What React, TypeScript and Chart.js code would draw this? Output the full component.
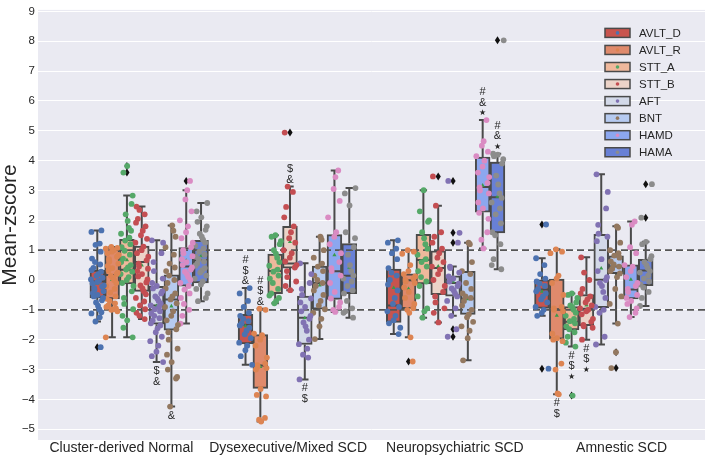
import { useEffect, useRef } from 'react';
import { Chart, registerables } from 'chart.js';
Chart.register(...registerables);

// ---------- data ----------
const GROUPS = ['Cluster-derived Normal', 'Dysexecutive/Mixed SCD', 'Neuropsychiatric SCD', 'Amnestic SCD'];
const SERIES = ['AVLT_D', 'AVLT_R', 'STT_A', 'STT_B', 'AFT', 'BNT', 'HAMD', 'HAMA'];
const Y_TICKS = [-5, -4, -3, -2, -1, 0, 1, 2, 3, 4, 5, 6, 7, 8, 9];
const REF_LINES = [1, -1];

// box stats per group: [lower whisker, Q1, median, Q3, upper whisker]
const AVLT_D_BOX = [[-1.39, -0.6, -0.05, 0.33, 1.66], [-2.84, -2.14, -1.5, -1.15, -0.27], [-1.81, -1.42, -0.85, 0.37, 1.33], [-1.2, -0.95, -0.32, 0.01, 0.73]];
const AVLT_R_BOX = [[-1.92, -0.63, 0.17, 1.08, 1.11], [-4.74, -3.63, -2.86, -1.83, -0.96], [-1.92, -0.96, -0.01, 0.21, 1.0], [-3.83, -1.98, -0.98, 0.03, 1.03]];
const STT_A_BOX = [[-1.92, -0.13, 0.34, 1.36, 2.83], [-0.78, -0.46, 0.3, 0.87, 1.5], [-1.26, -0.13, 0.67, 1.53, 3.01], [-2.23, -1.67, -1.4, -0.89, -0.45]];
const STT_B_BOX = [[-1.31, -0.38, 0.6, 1.14, 2.46], [-0.34, 0.4, 0.55, 1.8, 3.13], [-1.42, -0.49, 0.4, 0.98, 2.49], [-2.0, -1.53, -0.96, -0.49, 0.76]];
const AFT_BOX = [[-2.75, -1.48, -0.85, -0.21, 1.33], [-3.33, -2.16, -1.26, -0.54, 0.56], [-1.2, -0.54, -0.1, 0.14, 0.45], [-2.16, -0.93, 0.01, 1.53, 3.54]];
const BNT_BOX = [[-4.24, -1.68, -0.65, 0.17, 1.83], [-1.98, -0.98, -0.1, 0.47, 1.45], [-2.69, -1.15, -0.62, 0.29, 1.25], [-1.46, 0.21, 0.45, 0.81, 1.8]];
const HAMD_BOX = [[-1.46, -0.21, 0.45, 1.09, 3.01], [-1.07, -0.65, 0.29, 1.52, 3.67], [1.06, 2.27, 3.12, 4.12, 5.36], [-1.24, -0.63, -0.32, 0.51, 1.96]];
const HAMA_BOX = [[-0.71, -0.1, 0.67, 1.33, 2.58], [-1.26, -0.46, 0.14, 1.22, 3.08], [0.36, 1.58, 2.77, 3.95, 4.23], [-0.87, -0.19, 0.32, 0.69, 1.28]];

// outliers (fliers) per group
const AVLT_D_OUT = [[-2.25], [], [], [1.86, -2.97]];
const AVLT_R_OUT = [[], [], [-2.73], []];
const STT_A_OUT = [[3.82, 3.6], [], [], [-3.87]];
const STT_B_OUT = [[], [4.94], [3.47], []];
const AFT_OUT = [[], [], [3.32, 1.58, 1.25, -1.65, -1.9], []];
const BNT_OUT = [[], [], [], [-2.42, -2.95]];
const HAMD_OUT = [[3.32], [], [], []];
const HAMA_OUT = [[], [], [8.03], [3.21, 2.09]];

// individual subject values per group
const AVLT_D_PTS = [
  [1.66, 1.61, 1.22, 1.18, 0.95, 0.72, 0.6, 0.52, 0.41, 0.33, 0.28, 0.2, 0.14, 0.08, 0.02, -0.03, -0.07, -0.12, -0.18, -0.22, -0.27, -0.33, -0.38, -0.44, -0.5, -0.55, -0.6, -0.68, -0.75, -0.86, -0.98, -1.08, -1.12, -1.25, -1.39, -2.25],
  [-0.27, -0.45, -0.7, -0.9, -1.1, -1.2, -1.3, -1.38, -1.45, -1.52, -1.6, -1.7, -1.82, -1.95, -2.1, -2.2, -2.35, -2.55, -2.84],
  [1.33, 1.25, 1.05, 0.9, 0.7, 0.4, 0.25, 0.15, 0.0, -0.15, -0.35, -0.6, -0.8, -0.9, -1.05, -1.2, -1.35, -1.45, -1.6, -1.81],
  [1.86, 0.73, 0.5, 0.2, 0.05, -0.05, -0.12, -0.2, -0.3, -0.38, -0.45, -0.55, -0.65, -0.75, -0.9, -1.0, -1.1, -1.2, -2.97],
];
const AVLT_R_PTS = [
  [1.11, 1.08, 1.05, 1.0, 0.95, 0.9, 0.84, 0.78, 0.7, 0.62, 0.55, 0.47, 0.4, 0.32, 0.25, 0.2, 0.14, 0.08, 0.0, -0.1, -0.2, -0.3, -0.42, -0.55, -0.63, -0.7, -0.78, -0.85, -0.9, -0.95, -0.98, -1.0, -1.05, -1.92],
  [-0.96, -1.0, -1.8, -1.85, -2.0, -2.2, -2.6, -2.8, -2.85, -2.9, -2.95, -3.0, -3.65, -3.85, -3.9, -4.62, -4.68, -4.74],
  [1.0, 0.95, 0.88, 0.5, 0.3, 0.2, 0.12, 0.05, 0.0, -0.05, -0.1, -0.25, -0.4, -0.6, -0.8, -0.95, -1.0, -1.1, -1.92, -2.73],
  [1.03, 0.95, 0.9, 0.15, 0.05, -0.1, -0.5, -0.9, -0.95, -1.0, -1.05, -1.8, -1.95, -2.0, -2.05, -2.8, -3.0, -3.8, -3.83],
];
const STT_A_PTS = [
  [3.82, 3.6, 2.83, 2.55, 2.2, 1.98, 1.75, 1.65, 1.55, 1.42, 1.32, 1.2, 1.1, 0.98, 0.85, 0.72, 0.6, 0.5, 0.42, 0.35, 0.28, 0.2, 0.1, 0.0, -0.1, -0.2, -0.38, -0.6, -0.8, -0.98, -1.2, -1.35, -1.6, -1.92],
  [1.5, 1.45, 1.3, 1.2, 1.0, 0.88, 0.75, 0.6, 0.48, 0.35, 0.28, 0.15, 0.05, -0.1, -0.3, -0.45, -0.52, -0.6, -0.7, -0.78],
  [3.01, 2.3, 2.0, 1.95, 1.6, 1.4, 1.2, 1.05, 0.85, 0.7, 0.6, 0.45, 0.3, 0.1, -0.05, -0.2, -0.55, -0.95, -1.05, -1.26],
  [-0.45, -0.5, -0.6, -0.75, -0.85, -0.9, -1.0, -1.1, -1.2, -1.3, -1.38, -1.45, -1.55, -1.65, -1.75, -1.9, -2.1, -2.23, -3.87],
];
const STT_B_PTS = [
  [2.46, 2.35, 2.2, 2.05, 1.92, 1.8, 1.65, 1.5, 1.38, 1.25, 1.12, 1.0, 0.9, 0.78, 0.66, 0.55, 0.45, 0.38, 0.3, 0.2, 0.12, 0.02, -0.08, -0.18, -0.28, -0.38, -0.48, -0.6, -0.72, -0.85, -0.98, -1.1, -1.2, -1.31],
  [4.94, 3.13, 2.95, 2.45, 2.1, 1.8, 1.6, 1.4, 1.25, 1.0, 0.9, 0.75, 0.62, 0.5, 0.42, 0.3, 0.1, -0.05, -0.2, -0.34],
  [3.47, 2.49, 1.6, 1.45, 1.25, 1.05, 0.9, 0.75, 0.6, 0.45, 0.35, 0.2, 0.0, -0.2, -0.4, -0.55, -0.75, -0.95, -1.1, -1.42],
  [0.76, 0.25, 0.0, -0.3, -0.45, -0.55, -0.65, -0.75, -0.85, -0.95, -1.0, -1.05, -1.15, -1.3, -1.4, -1.5, -1.55, -1.6, -2.0],
];
const AFT_PTS = [
  [1.33, 1.25, 0.9, 0.6, 0.3, 0.05, -0.1, -0.2, -0.28, -0.38, -0.45, -0.55, -0.62, -0.7, -0.78, -0.85, -0.9, -0.98, -1.05, -1.12, -1.2, -1.28, -1.36, -1.45, -1.52, -1.62, -1.75, -1.9, -2.05, -2.2, -2.4, -2.55, -2.75],
  [0.56, 0.2, -0.1, -0.3, -0.5, -0.62, -0.75, -0.9, -1.05, -1.2, -1.3, -1.42, -1.55, -1.7, -2.0, -2.15, -2.3, -2.5, -2.6, -3.33],
  [3.32, 1.58, 1.25, 0.45, 0.4, 0.25, 0.12, 0.05, -0.05, -0.12, -0.2, -0.28, -0.35, -0.45, -0.55, -0.7, -0.95, -1.2, -1.65, -1.9],
  [3.54, 2.95, 2.4, 1.85, 1.55, 1.45, 1.3, 0.7, 0.3, 0.1, 0.0, -0.1, -0.2, -0.4, -0.6, -0.9, -1.0, -1.1, -1.9, -2.16],
];
const BNT_PTS = [
  [1.83, 1.65, 1.45, 1.1, 0.85, 0.55, 0.42, 0.3, 0.15, 0.0, -0.1, -0.28, -0.45, -0.55, -0.65, -0.78, -0.9, -1.05, -1.2, -1.35, -1.5, -1.65, -1.75, -2.0, -2.3, -2.5, -2.75, -3.0, -3.25, -3.3, -4.24],
  [1.45, 1.35, 1.0, 0.75, 0.55, 0.45, 0.3, 0.15, 0.0, -0.1, -0.2, -0.35, -0.5, -0.7, -0.85, -0.98, -1.1, -1.3, -1.55, -1.98],
  [1.25, 1.2, 0.6, 0.3, 0.2, -0.1, -0.3, -0.45, -0.55, -0.6, -0.7, -0.85, -1.0, -1.15, -1.25, -1.4, -1.55, -1.7, -1.95, -2.69],
  [1.8, 1.75, 1.25, 1.0, 0.9, 0.82, 0.75, 0.62, 0.52, 0.45, 0.38, 0.3, 0.22, 0.1, -0.3, -0.55, -0.8, -1.46, -2.42, -2.95],
];
const HAMD_PTS = [
  [3.32, 3.01, 2.7, 2.3, 2.0, 1.8, 1.6, 1.4, 1.25, 1.1, 1.0, 0.9, 0.8, 0.7, 0.6, 0.5, 0.42, 0.35, 0.28, 0.2, 0.1, 0.0, -0.1, -0.2, -0.32, -0.45, -0.6, -0.8, -1.0, -1.2, -1.46],
  [3.67, 3.45, 3.05, 2.65, 2.1, 1.6, 1.45, 1.2, 0.9, 0.6, 0.4, 0.3, 0.15, -0.1, -0.4, -0.62, -0.75, -0.9, -1.0, -1.07],
  [5.36, 4.65, 4.5, 4.3, 4.15, 4.0, 3.8, 3.6, 3.45, 3.25, 3.1, 3.0, 2.9, 2.6, 2.4, 2.25, 2.05, 1.6, 1.35, 1.06],
  [1.96, 1.85, 1.1, 0.9, 0.5, 0.45, 0.3, 0.1, -0.1, -0.2, -0.3, -0.4, -0.5, -0.6, -0.7, -0.8, -0.95, -1.1, -1.24],
];
const HAMA_PTS = [
  [2.58, 2.3, 2.1, 1.95, 1.8, 1.68, 1.55, 1.45, 1.35, 1.25, 1.15, 1.05, 0.95, 0.85, 0.78, 0.7, 0.62, 0.55, 0.48, 0.4, 0.32, 0.25, 0.15, 0.05, -0.05, -0.15, -0.3, -0.45, -0.6, -0.71],
  [3.08, 2.9, 2.5, 1.6, 1.4, 1.1, 0.85, 0.5, 0.3, 0.15, 0.05, -0.05, -0.2, -0.35, -0.45, -0.7, -0.95, -1.05, -1.1, -1.26],
  [8.03, 4.23, 4.2, 4.15, 4.05, 3.9, 3.5, 3.2, 2.9, 2.75, 2.6, 2.4, 2.2, 1.9, 1.6, 1.5, 1.2, 0.7, 0.5, 0.36],
  [3.21, 2.09, 1.28, 1.2, 0.8, 0.7, 0.6, 0.5, 0.4, 0.3, 0.25, 0.15, 0.05, -0.05, -0.15, -0.25, -0.4, -0.6, -0.87],
];

// significance marks: group, series, side of whisker, lines of text
const ANNOTATIONS = [
  { g: 0, s: 4, side: 'below', lines: ['$', '&'] },
  { g: 0, s: 5, side: 'below', lines: ['&'] },
  { g: 1, s: 0, side: 'above', lines: ['#', '$', '&'] },
  { g: 1, s: 1, side: 'above', lines: ['#', '$', '&'] },
  { g: 1, s: 3, side: 'above', lines: ['$', '&'] },
  { g: 1, s: 4, side: 'below', lines: ['#', '$'] },
  { g: 2, s: 6, side: 'above', lines: ['#', '&', '★'] },
  { g: 2, s: 7, side: 'above', lines: ['#', '&', '★'] },
  { g: 3, s: 1, side: 'below', lines: ['#', '$'] },
  { g: 3, s: 2, side: 'below', lines: ['#', '$', '★'] },
  { g: 3, s: 3, side: 'below', lines: ['#', '$', '★'] },
];

const BOXES = [AVLT_D_BOX, AVLT_R_BOX, STT_A_BOX, STT_B_BOX, AFT_BOX, BNT_BOX, HAMD_BOX, HAMA_BOX];
const OUTS = [AVLT_D_OUT, AVLT_R_OUT, STT_A_OUT, STT_B_OUT, AFT_OUT, BNT_OUT, HAMD_OUT, HAMA_OUT];
const PTS = [AVLT_D_PTS, AVLT_R_PTS, STT_A_PTS, STT_B_PTS, AFT_PTS, BNT_PTS, HAMD_PTS, HAMA_PTS];

// ---------- styles ----------
const BOX_FILL = ['#c8544e', '#df8a6c', '#efb89c', '#ecd3c8', '#d3d9e8', '#b6caf0', '#8ca7ef', '#6880d6'];
const DOT_COLORS = ['#4c72b0', '#dd8452', '#55a868', '#c44e52', '#8172b3', '#937860', '#da8bc3', '#8c8c8c'];
const EDGE = '#4a4a4a';
const TEXT = '#262626';
const FONT = "'Liberation Sans', Arial, 'DejaVu Sans', sans-serif";
const JITTER = [0.62, -0.41, 0.15, -0.88, 0.93, -0.12, 0.37, -0.66, 0.79, -0.27, 0.04, -0.95, 0.51, -0.53, 0.26, -0.79, 0.86, -0.02, -0.35, 0.69, -0.71, 0.44, -0.19, 0.98, -0.58, 0.11, 0.73, -0.86, 0.3, -0.46, 0.57];
const JITTER_W = 0.045;
const SLOT = 0.1;
const BOX_W = 16.4;

const slotX = (g: number, s: number) => g + (s - 3.5) * SLOT;

const extras = {
  id: 'boxExtras',
  beforeDraw(chart: any) {
    const { ctx, chartArea: a } = chart;
    ctx.save();
    ctx.fillStyle = '#eaeaf2';
    ctx.fillRect(a.left, a.top, a.right - a.left, a.bottom - a.top);
    ctx.restore();
  },
  afterDatasetDraw(chart: any, args: any) {
    const meta = args.meta;
    if (meta.type !== 'bar') return;
    const s = args.index;
    const y = chart.scales.y;
    const ctx = chart.ctx;
    ctx.save();
    ctx.strokeStyle = EDGE;
    ctx.lineWidth = 2;
    meta.data.forEach((el: any, g: number) => {
      const [wlo, q1, med, q3, whi] = BOXES[s][g];
      const { x, width } = el.getProps(['x', 'width'], true);
      const cap = width / 4;
      ctx.beginPath();
      ctx.moveTo(x, y.getPixelForValue(q3));
      ctx.lineTo(x, y.getPixelForValue(whi));
      ctx.moveTo(x - cap, y.getPixelForValue(whi));
      ctx.lineTo(x + cap, y.getPixelForValue(whi));
      ctx.moveTo(x, y.getPixelForValue(q1));
      ctx.lineTo(x, y.getPixelForValue(wlo));
      ctx.moveTo(x - cap, y.getPixelForValue(wlo));
      ctx.lineTo(x + cap, y.getPixelForValue(wlo));
      ctx.moveTo(x - width / 2 + 1, y.getPixelForValue(med));
      ctx.lineTo(x + width / 2 - 1, y.getPixelForValue(med));
      ctx.stroke();
      // fliers: thin black diamonds
      ctx.fillStyle = '#111';
      OUTS[s][g].forEach((v: number) => {
        const py = y.getPixelForValue(v);
        ctx.beginPath();
        ctx.moveTo(x, py - 4);
        ctx.lineTo(x + 2.6, py);
        ctx.lineTo(x, py + 4);
        ctx.lineTo(x - 2.6, py);
        ctx.closePath();
        ctx.fill();
      });
    });
    if (s === 0) {
      const a = chart.chartArea;
      ctx.strokeStyle = '#555555';
      ctx.lineWidth = 1.8;
      ctx.setLineDash([7, 4]);
      REF_LINES.forEach((v) => {
        const py = y.getPixelForValue(v);
        ctx.beginPath();
        ctx.moveTo(a.left, py);
        ctx.lineTo(a.right, py);
        ctx.stroke();
      });
    }
    ctx.restore();
  },
  afterDraw(chart: any) {
    const { ctx, chartArea: a } = chart;
    const y = chart.scales.y;
    ctx.save();
    ctx.fillStyle = TEXT;
    ctx.textAlign = 'center';
    ctx.textBaseline = 'middle';
    ANNOTATIONS.forEach((an) => {
      const el = chart.getDatasetMeta(an.s).data[an.g];
      const x = el.x;
      const box = BOXES[an.s][an.g];
      const n = an.lines.length;
      an.lines.forEach((t, i) => {
        ctx.font = (t === '★' ? '8px ' : '11px ') + FONT;
        let py;
        if (an.side === 'above') py = y.getPixelForValue(box[4]) - 7 - (n - 1 - i) * 10.5;
        else py = y.getPixelForValue(box[0]) + 9 + i * 10.5;
        ctx.fillText(t, x, py);
      });
    });
    // legend
    const lx = a.right - 100;
    SERIES.forEach((name, i) => {
      const cy = a.top + 23 + i * 17.05;
      ctx.fillStyle = BOX_FILL[i];
      ctx.fillRect(lx, cy - 4.5, 25, 9);
      ctx.strokeStyle = EDGE;
      ctx.lineWidth = 1.5;
      ctx.strokeRect(lx, cy - 4.5, 25, 9);
      ctx.fillStyle = DOT_COLORS[i];
      ctx.beginPath();
      ctx.arc(lx + 12.5, cy, 1.8, 0, Math.PI * 2);
      ctx.fill();
      ctx.fillStyle = TEXT;
      ctx.textAlign = 'left';
      ctx.font = '11.5px ' + FONT;
      ctx.fillText(name, lx + 34, cy + 0.5);
    });
    ctx.restore();
  },
};

export default function App() {
  const ref = useRef<HTMLCanvasElement>(null);
  useEffect(() => {
    if (!ref.current) return;
    const barSets = SERIES.map((name, s) => ({
      type: 'bar' as const,
      label: name,
      data: BOXES[s].map((b, g) => ({ x: slotX(g, s), y: [b[1], b[3]] })),
      backgroundColor: BOX_FILL[s],
      borderColor: EDGE,
      borderWidth: 2,
      borderSkipped: false,
      grouped: false,
      categoryPercentage: 1,
      barPercentage: 1,
      maxBarThickness: BOX_W,
      xAxisID: 'x2',
      yAxisID: 'y',
      order: 2,
    }));
    const pointSets = SERIES.map((name, s) => ({
      type: 'scatter' as const,
      label: name + ' points',
      data: PTS[s].flatMap((vals, g) =>
        vals.map((v, k) => ({
          x: slotX(g, s) + JITTER[(k * 3 + s * 5) % JITTER.length] * JITTER_W,
          y: v,
        }))
      ),
      backgroundColor: DOT_COLORS[s],
      borderWidth: 0,
      pointRadius: 2.9,
      pointHoverRadius: 2.9,
      grouped: false,
      xAxisID: 'x2',
      yAxisID: 'y',
      order: 0,
    }));
    const meanSet = {
      type: 'scatter' as const,
      label: 'means',
      data: SERIES.flatMap((_, s) =>
        PTS[s].map((vals, g) => ({
          x: slotX(g, s),
          y: vals.reduce((p, c) => p + c, 0) / vals.length,
        }))
      ),
      backgroundColor: '#3a9a4a',
      borderWidth: 0,
      pointStyle: 'triangle',
      pointRadius: 2.4,
      grouped: false,
      xAxisID: 'x2',
      yAxisID: 'y',
      order: 1,
    };
    const chart = new Chart(ref.current, {
      type: 'bar',
      data: { labels: GROUPS, datasets: [...barSets, meanSet, ...pointSets] as any },
      options: {
        responsive: false,
        animation: false,
        devicePixelRatio: 1,
        layout: { padding: { top: 3, right: 2, left: 0, bottom: 0 } },
        plugins: { legend: { display: false }, tooltip: { enabled: false } },
        scales: {
          x: {
            type: 'category',
            labels: GROUPS,
            offset: true,
            grid: { display: false, drawTicks: false },
            border: { display: false },
            ticks: { font: { size: 14, family: FONT }, color: TEXT, padding: 0, maxRotation: 0, autoSkip: false },
            afterFit: (sc: any) => { sc.height = 18; },
          },
          x2: { type: 'linear', min: -0.5, max: 3.5, display: false },
          y: {
            type: 'linear',
            min: -5.36,
            max: 9.05,
            afterBuildTicks: (sc: any) => { sc.ticks = Y_TICKS.map((v) => ({ value: v })); },
            grid: { color: '#ffffff', lineWidth: 1, drawTicks: false },
            border: { display: false },
            ticks: {
              font: { size: 11.5, family: FONT },
              color: TEXT,
              padding: 3,
              callback: (v: any) => (v < 0 ? '\u2212' + Math.abs(v) : String(v)),
            },
            title: { display: true, text: 'Mean-zscore', font: { size: 21, family: FONT }, color: TEXT, padding: { top: -2, bottom: 0 } },
            afterFit: (sc: any) => { sc.width = 38; },
          },
        },
      } as any,
      plugins: [extras],
    });
    return () => chart.destroy();
  }, []);
  return (
    <div style={{ position: 'absolute', left: 0, top: 0, width: 709, height: 458 }}>
      <canvas ref={ref} width={709} height={458} />
    </div>
  );
}
